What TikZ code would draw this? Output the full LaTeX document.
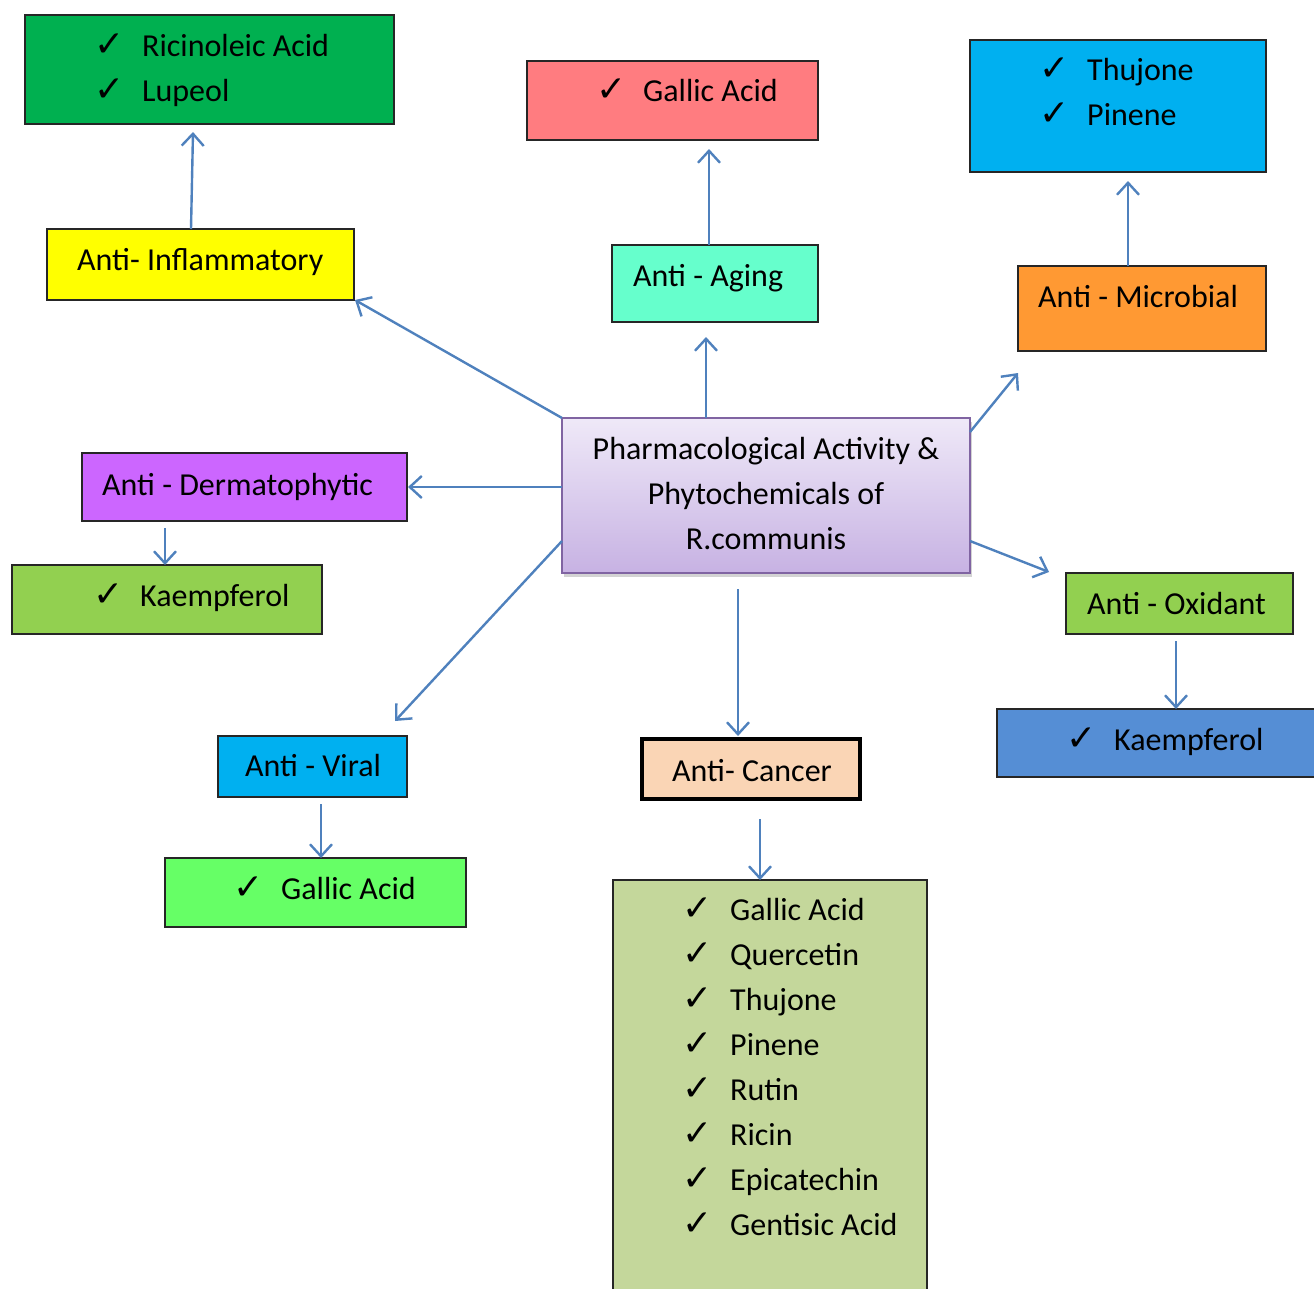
\documentclass[tikz,border=0pt]{standalone}
\usepackage{fontspec}
\setmainfont{Carlito}
\newfontfamily\chkfont{DejaVu Sans}
\usetikzlibrary{arrows.meta,shadows}
\definecolor{darkgreen}{HTML}{00B050}
\definecolor{salmon}{HTML}{FF7C80}
\definecolor{skyblue}{HTML}{00B0F0}
\definecolor{aqua}{HTML}{66FFCC}
\definecolor{orangebox}{HTML}{FF9933}
\definecolor{yellowbox}{HTML}{FFFF00}
\definecolor{violetbox}{HTML}{CC66FF}
\definecolor{limebox}{HTML}{92D050}
\definecolor{bluebox}{HTML}{558ED5}
\definecolor{brightgreen}{HTML}{66FF66}
\definecolor{peach}{HTML}{FAD5B5}
\definecolor{olivebox}{HTML}{C4D79B}
\definecolor{arrowblue}{HTML}{4F81BD}
\definecolor{purpleline}{HTML}{8064A2}
\definecolor{lavtop}{HTML}{EFE9F8}
\definecolor{lavbot}{HTML}{C7B2E3}
\begin{document}
\begin{tikzpicture}[x=1pt,y=-1pt,
  box/.style={draw=black!85, line width=1.3pt, inner sep=0pt, outer sep=0pt},
  txt/.style={anchor=base west, inner sep=0pt, font=\fontsize{32}{45}\selectfont},
  ctxt/.style={anchor=base, inner sep=0pt, font=\fontsize{32}{45}\selectfont},
  chk/.style={anchor=base west, inner sep=0pt, font=\chkfont\fontsize{36}{36}\selectfont},
  arr/.style={draw=arrowblue, line width=2.4pt, -{Straight Barb[length=12pt,width=22pt,line width=2.4pt]}}
]
\useasboundingbox (0,0) rectangle (1314,1288);

% boxes
\node[box, fill=darkgreen, minimum width=369pt, minimum height=109pt] (ric) at (209.5,69.5) {};
\node[box, fill=yellowbox, minimum width=307pt, minimum height=71pt] (infl) at (200.5,264.5) {};
\node[box, fill=salmon, minimum width=291pt, minimum height=79pt] (gal1) at (672.5,100.5) {};
\node[box, fill=aqua, minimum width=206pt, minimum height=77pt] (aging) at (715,283.5) {};
\node[box, fill=skyblue, minimum width=296pt, minimum height=132pt] (thu) at (1118,106) {};
\node[box, fill=orangebox, minimum width=248pt, minimum height=85pt] (micro) at (1142,308.5) {};
\node[draw=purpleline, line width=2pt, inner sep=0pt, outer sep=0pt, top color=lavtop, bottom color=lavbot,
      drop shadow={shadow xshift=2pt, shadow yshift=-4pt, opacity=0.35},
      minimum width=408pt, minimum height=155pt] (center) at (766,495.5) {};
\node[box, fill=violetbox, minimum width=325pt, minimum height=68pt] (derm) at (244.5,487) {};
\node[box, fill=limebox, minimum width=310pt, minimum height=69pt] (kae1) at (167,599.5) {};
\node[box, fill=limebox, minimum width=227pt, minimum height=61pt] (oxi) at (1179.5,603.5) {};
\node[box, fill=bluebox, minimum width=323pt, minimum height=68pt] (kae2) at (1158.5,743) {};
\node[box, fill=skyblue, minimum width=189pt, minimum height=61pt] (viral) at (312.5,766.5) {};
\node[box, fill=brightgreen, minimum width=301pt, minimum height=69pt] (gal2) at (315.5,892.5) {};
\node[draw=black, line width=4pt, inner sep=0pt, outer sep=0pt, fill=peach, minimum width=218pt, minimum height=60pt] (cancer) at (751,769) {};
\node[box, fill=olivebox, minimum width=314pt, minimum height=420pt] (list) at (770,1090) {};

% texts
\node[chk] (ricc1) at (94,56) {✓};
\node[txt] (rict1) at (142,56) {Ricinoleic Acid};
\node[chk] (ricc2) at (94,101) {✓};
\node[txt] (rict2) at (142,101) {Lupeol};

\node[txt] (inflt) at (77,270) {Anti- Inflammatory};

\node[chk] (galc1) at (596,101) {✓};
\node[txt] (galt1) at (643,101) {Gallic Acid};

\node[txt] (agingt) at (633,286) {Anti - Aging};

\node[chk] (thuc1) at (1039,80) {✓};
\node[txt] (thut1) at (1087,80) {Thujone};
\node[chk] (thuc2) at (1039,125) {✓};
\node[txt] (thut2) at (1087,125) {Pinene};

\node[txt] (microt) at (1038,307) {Anti - Microbial};

\node[ctxt] (ct1) at (766,459) {Pharmacological Activity \&};
\node[ctxt] (ct2) at (766,504) {Phytochemicals of};
\node[ctxt] (ct3) at (766,549) {R.communis};

\node[txt] (dermt) at (102,495) {Anti - Dermatophytic};

\node[chk] (kae1c) at (93,606) {✓};
\node[txt] (kae1t) at (140,606) {Kaempferol};

\node[txt] (oxit) at (1087,614) {Anti - Oxidant};

\node[chk] (kae2c) at (1066,750) {✓};
\node[txt] (kae2t) at (1114,750) {Kaempferol};

\node[txt] (viralt) at (245,776) {Anti - Viral};

\node[chk] (gal2c) at (233,899) {✓};
\node[txt] (gal2t) at (281,899) {Gallic Acid};

\node[txt] (cancert) at (672,781) {Anti- Cancer};

\foreach \t [count=\i from 0] in {Gallic Acid, Quercetin, Thujone, Pinene, Rutin, Ricin, Epicatechin, Gentisic Acid}{
  \node[chk] (lc\i) at (682,920+45*\i) {✓};
  \node[txt] (lt\i) at (730,920+45*\i) {\t};
}

% arrows
\draw[arr] ([xshift=-9.5pt]infl.north) -- ([xshift=-16.5pt,yshift=-8pt]ric.south);
\draw[arr] ([xshift=-6pt]aging.north) -- ([xshift=36.5pt,yshift=-9pt]gal1.south);
\draw[arr] ([xshift=-14pt]micro.north) -- ([xshift=10pt,yshift=-9pt]thu.south);
\draw[arr] ([xshift=-60pt]center.north) -- ([xshift=-9pt,yshift=-15pt]aging.south);
\draw[arr] (center.north west) -- ([xshift=1pt]infl.south east);
\draw[arr] ([yshift=63.5pt]center.east) -- ([yshift=-22pt]micro.south west);
\draw[arr] ([yshift=-45.5pt]center.east) -- ([xshift=-17pt,yshift=1pt]oxi.north west);
\draw[arr] ([yshift=8.5pt]center.west) -- ([xshift=1pt]derm.east);
\draw[arr] ([yshift=-45.5pt]center.west) -- ([xshift=-12pt,yshift=15pt]viral.north east);
\draw[arr] ([xshift=-28pt,yshift=-16pt]center.south) -- ([xshift=-13pt,yshift=3pt]cancer.north);
\draw[arr] ([xshift=-79.5pt,yshift=-7pt]derm.south) -- ([xshift=-2pt]kae1.north);
\draw[arr] ([xshift=-3.5pt,yshift=-7pt]oxi.south) -- ([xshift=17.5pt]kae2.north);
\draw[arr] ([xshift=8.5pt,yshift=-7pt]viral.south) -- ([xshift=5.5pt]gal2.north);
\draw[arr] ([xshift=9pt,yshift=-20pt]cancer.south) -- ([xshift=-10pt]list.north);
\end{tikzpicture}
\end{document}
